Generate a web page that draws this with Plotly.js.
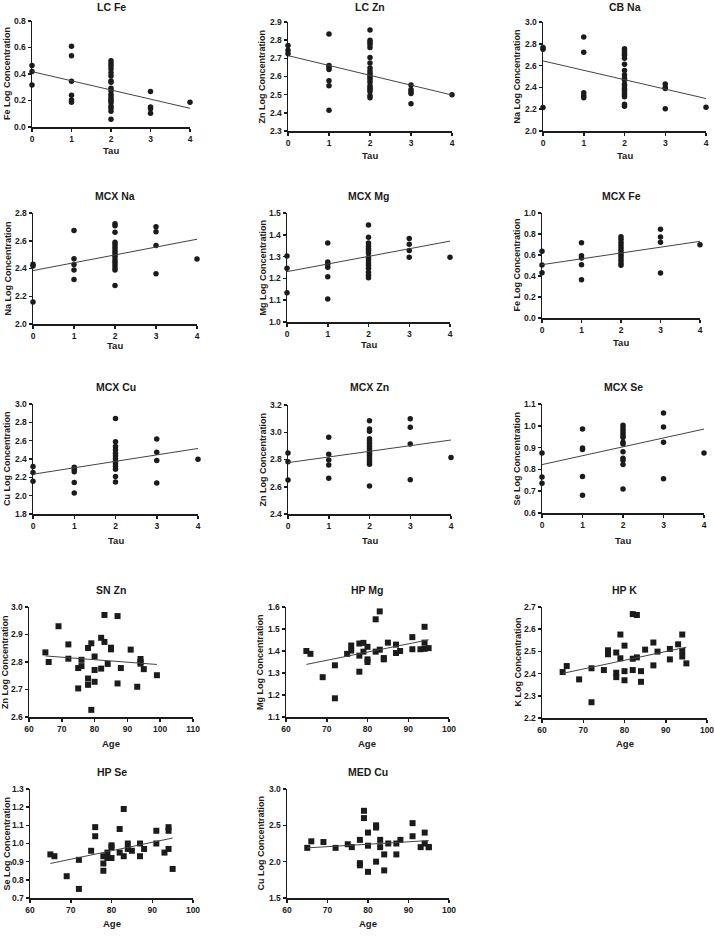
<!DOCTYPE html>
<html><head><meta charset="utf-8">
<script src="https://cdn.plot.ly/plotly-3.0.1.min.js"></script>
<style>html,body{margin:0;padding:0;background:#fff}#chart{width:714px;height:938px}</style>
</head><body><div id="chart"></div>
<script>
// ---------------- DATA ----------------
const panelTitles = ["LC Fe","LC Zn","CB Na","MCX Na","MCX Mg","MCX Fe","MCX Cu","MCX Zn","MCX Se","SN Zn","HP Mg","HP K","HP Se","MED Cu"];
const yTitles = ["Fe Log Concentration","Zn Log Concentration","Na Log Concentration","Na Log Concentration","Mg Log Concentration","Fe Log Concentration","Cu Log Concentration","Zn Log Concentration","Se Log Concentration","Zn Log Concentration","Mg Log Concentration","K Log Concentration","Se Log Concentration","Cu Log Concentration"];
const xTitles = ["Tau","Tau","Tau","Tau","Tau","Tau","Tau","Tau","Tau","Age","Age","Age","Age","Age"];

const lcFeTau = [0,0,0,1,1,1,1,1,1,2,2,2,2,2,2,2,2,2,2,2,2,2,2,2,2,2,2,2,3,3,3,3,4];
const lcFeVal = [0.465,0.418,0.317,0.609,0.538,0.345,0.24,0.204,0.186,0.50,0.48,0.46,0.438,0.41,0.385,0.347,0.337,0.292,0.274,0.247,0.229,0.211,0.199,0.184,0.158,0.141,0.118,0.058,0.267,0.151,0.138,0.103,0.186];

const lcZnTau = [0,0,0,1,1,1,1,1,1,1,2,2,2,2,2,2,2,2,2,2,2,2,2,2,2,2,2,2,2,2,3,3,3,3,3,4];
const lcZnVal = [2.77,2.745,2.725,2.834,2.66,2.649,2.638,2.577,2.549,2.414,2.856,2.80,2.789,2.776,2.76,2.704,2.675,2.647,2.63,2.617,2.606,2.594,2.582,2.568,2.549,2.538,2.529,2.518,2.496,2.483,2.553,2.529,2.516,2.507,2.45,2.5];

const cbNaTau = [0,0,0,1,1,1,1,1,2,2,2,2,2,2,2,2,2,2,2,2,2,2,2,2,2,2,2,3,3,3,3,4];
const cbNaVal = [2.766,2.75,2.215,2.862,2.723,2.35,2.326,2.305,2.754,2.735,2.714,2.695,2.668,2.612,2.554,2.514,2.483,2.468,2.431,2.415,2.391,2.375,2.351,2.332,2.314,2.246,2.228,2.431,2.40,2.391,2.203,2.218];

const mcxNaTau = [0,0,0,1,1,1,1,1,2,2,2,2,2,2,2,2,2,2,2,2,2,2,2,2,3,3,3,3,4];
const mcxNaVal = [2.43,2.418,2.159,2.674,2.471,2.428,2.389,2.321,2.723,2.708,2.662,2.59,2.573,2.553,2.534,2.515,2.498,2.483,2.461,2.445,2.425,2.406,2.389,2.278,2.701,2.665,2.566,2.363,2.469];

const mcxMgTau = [0,0,0,1,1,1,1,1,1,2,2,2,2,2,2,2,2,2,2,2,2,2,2,2,3,3,3,3,4];
const mcxMgVal = [1.303,1.246,1.134,1.362,1.275,1.265,1.251,1.208,1.105,1.445,1.389,1.362,1.349,1.337,1.328,1.317,1.297,1.285,1.272,1.26,1.246,1.228,1.215,1.203,1.383,1.357,1.328,1.297,1.297];

const mcxFeTau = [0,0,0,1,1,1,1,1,2,2,2,2,2,2,2,2,2,2,2,2,3,3,3,3,4];
const mcxFeVal = [0.635,0.505,0.432,0.717,0.594,0.571,0.508,0.365,0.775,0.749,0.721,0.695,0.67,0.645,0.619,0.597,0.575,0.549,0.524,0.502,0.845,0.771,0.721,0.429,0.698];

const mcxCuTau = [0,0,0,1,1,1,1,1,2,2,2,2,2,2,2,2,2,2,2,2,2,3,3,3,3,4];
const mcxCuVal = [2.318,2.252,2.157,2.311,2.289,2.26,2.143,2.03,2.843,2.588,2.537,2.5,2.464,2.435,2.405,2.376,2.347,2.318,2.289,2.21,2.15,2.617,2.475,2.384,2.139,2.398];

const mcxZnTau = [0,0,0,1,1,1,1,1,2,2,2,2,2,2,2,2,2,2,2,2,2,2,2,2,3,3,3,3,4];
const mcxZnVal = [2.848,2.784,2.65,2.963,2.838,2.797,2.76,2.662,3.085,3.024,3.007,2.953,2.936,2.917,2.897,2.88,2.863,2.846,2.829,2.812,2.797,2.78,2.765,2.606,3.1,3.036,2.914,2.652,2.814];

const mcxSeTau = [0,0,0,1,1,1,1,1,2,2,2,2,2,2,2,2,2,2,2,2,2,3,3,3,3,4];
const mcxSeVal = [0.875,0.765,0.736,0.985,0.898,0.891,0.768,0.681,1.002,0.99,0.978,0.967,0.956,0.946,0.924,0.917,0.881,0.851,0.842,0.822,0.71,1.059,0.994,0.924,0.757,0.875];

const snZnAge = [65,66,69,72,72,75,75,76,76,78,78,78,79,79,80,80,80,82,82,83,83,84,85,85,87,87,88,91,93,94,94,94,95,99];
const snZnVal = [2.835,2.80,2.93,2.864,2.812,2.778,2.704,2.808,2.785,2.851,2.74,2.717,2.868,2.626,2.82,2.771,2.728,2.888,2.776,2.971,2.873,2.793,2.852,2.846,2.967,2.722,2.778,2.845,2.71,2.811,2.80,2.794,2.774,2.752];

const hpMgAge = [65,66,69,72,72,75,76,76,78,78,78,79,79,80,80,80,82,82,83,83,84,84,85,87,87,88,91,91,93,94,94,94,95];
const hpMgVal = [1.40,1.387,1.281,1.335,1.185,1.387,1.425,1.402,1.434,1.379,1.306,1.437,1.397,1.419,1.362,1.35,1.544,1.397,1.58,1.406,1.368,1.362,1.438,1.429,1.391,1.40,1.463,1.408,1.408,1.51,1.438,1.41,1.413];

const hpKAge = [65,66,69,72,72,75,76,76,78,78,78,79,79,80,80,80,82,82,82,83,83,84,84,85,87,87,88,91,91,93,94,94,94,95];
const hpKVal = [2.407,2.434,2.374,2.424,2.271,2.416,2.505,2.487,2.495,2.404,2.384,2.576,2.469,2.526,2.411,2.37,2.668,2.467,2.416,2.664,2.473,2.411,2.363,2.508,2.54,2.437,2.499,2.511,2.464,2.532,2.576,2.502,2.477,2.446];

const hpSeAge = [65,66,69,72,72,75,76,76,78,78,78,79,79,80,80,80,82,82,83,83,84,84,85,87,87,88,91,91,93,94,94,94,95];
const hpSeVal = [0.94,0.93,0.82,0.75,0.91,0.96,1.09,1.04,0.93,0.89,0.85,0.95,0.92,0.99,0.98,0.92,1.08,0.95,1.19,0.93,1.0,0.97,0.96,1.0,0.93,0.97,1.07,1.0,0.95,1.09,1.07,0.97,0.86];

const medCuAge = [65,66,69,72,75,76,78,78,78,79,79,80,80,80,82,82,82,83,83,84,84,85,87,87,88,91,91,93,94,94,95,95];
const medCuVal = [2.19,2.28,2.27,2.19,2.24,2.2,1.98,1.95,2.3,2.7,2.6,2.22,2.4,1.86,2.5,2.47,2.0,2.3,2.2,1.88,2.1,2.25,2.25,2.1,2.3,2.53,2.35,2.2,2.4,2.25,2.2,2.2];

// fitted regression lines: value at smallest x, value at largest x
const fitStart = [0.418,2.715,2.643,2.385,1.231,0.508,2.234,2.777,0.822,2.822,1.339,2.401,0.89,2.19];
const fitEnd   = [0.141,2.498,2.298,2.611,1.371,0.730,2.515,2.943,0.985,2.791,1.451,2.519,1.03,2.29];

const yRanges = [[0,0.8],[2.3,2.9],[2.0,3.0],[2.0,2.8],[1.0,1.5],[0,1.0],[1.8,3.0],[2.4,3.2],[0.6,1.1],[2.6,3.0],[1.1,1.6],[2.2,2.7],[0.7,1.3],[1.5,3.0]];
const yDticks = [0.2,0.1,0.2,0.2,0.1,0.2,0.2,0.2,0.1,0.1,0.1,0.1,0.1,0.5];
const xRanges = [[0,4],[0,4],[0,4],[0,4],[0,4],[0,4],[0,4],[0,4],[0,4],[60,110],[60,100],[60,100],[60,100],[60,100]];

const seriesX = [lcFeTau,lcZnTau,cbNaTau,mcxNaTau,mcxMgTau,mcxFeTau,mcxCuTau,mcxZnTau,mcxSeTau,snZnAge,hpMgAge,hpKAge,hpSeAge,medCuAge];
const seriesY = [lcFeVal,lcZnVal,cbNaVal,mcxNaVal,mcxMgVal,mcxFeVal,mcxCuVal,mcxZnVal,mcxSeVal,snZnVal,hpMgVal,hpKVal,hpSeVal,medCuVal];

// ---------------- LAYOUT (pixel boxes of plot areas) ----------------
const W = 714, H = 938;
const boxes = [ // [left, right, top, bottom]
  [32,190,21,127],[288,452,22,131],[543,706,22,131],
  [33,197,213,324],[287,450,213,322],[542,700,213,318],
  [33,198,404,514],[288,451,405,514],[542,704,404,513],
  [29,193,607,717],[286,449,607,717],[542,707,607,718],
  [30,193,789,898],[287,449,789,898]
];
const titleY = [7,7,7,196,196,196,387,387,387,590,590,590,772,772];
const xTitleY = [150,155,155,345,344,342,540,540,540,743,743,743,923,923];
const yTitleX = [7,262,517,7,262,516,7,262,516,5,260,517,6,260];

const FONT = "Liberation Sans, Arial, sans-serif";
const INK = "#1b1b1b";
const traces = [];
const layout = {
  width: W, height: H,
  margin: {l:0,r:0,t:0,b:0},
  paper_bgcolor: "#fff", plot_bgcolor: "#fff",
  showlegend: false,
  font: {family: FONT, color: INK},
  annotations: []
};

for (let i = 0; i < 14; i++) {
  const sfx = i === 0 ? "" : String(i + 1);
  const xa = "x" + sfx, ya = "y" + sfx;
  const [l, r, t, b] = boxes[i];
  const isAge = xTitles[i] === "Age";
  traces.push({
    type: "scatter", mode: "markers", x: seriesX[i], y: seriesY[i],
    xaxis: xa, yaxis: ya, cliponaxis: false,
    marker: {symbol: isAge ? "square" : "circle", size: isAge ? 6 : 5.5, color: INK}
  });
  const xs = seriesX[i];
  const xmin = Math.min(...xs), xmax = Math.max(...xs);
  traces.push({
    type: "scatter", mode: "lines", x: [xmin, xmax], y: [fitStart[i], fitEnd[i]],
    xaxis: xa, yaxis: ya, cliponaxis: false,
    line: {color: "#444", width: 1}
  });
  layout["xaxis" + sfx] = {
    domain: [l / W, r / W], range: xRanges[i], anchor: ya,
    showgrid: false, zeroline: false, showline: true, linecolor: INK, linewidth: 1.5,
    ticks: "outside", ticklen: 3, tickwidth: 1.5, tickcolor: INK,
    dtick: isAge ? 10 : 1, tick0: 0, ticklabeloverflow: "allow",
    tickfont: {family: FONT, size: 8.5, weight: "bold", color: INK},
    fixedrange: true
  };
  layout["yaxis" + sfx] = {
    domain: [1 - b / H, 1 - t / H], range: yRanges[i], anchor: xa,
    showgrid: false, zeroline: false, showline: true, linecolor: INK, linewidth: 1.5,
    ticks: "outside", ticklen: 3, tickwidth: 1.5, tickcolor: INK,
    dtick: yDticks[i], tick0: 0, tickformat: ".1f", ticklabeloverflow: "allow",
    tickfont: {family: FONT, size: 8.5, weight: "bold", color: INK},
    fixedrange: true
  };
  layout.annotations.push({
    xref: "paper", yref: "paper", x: (l + r) / 2 / W, y: 1 - titleY[i] / H,
    xanchor: "center", yanchor: "middle", showarrow: false,
    text: "<b>" + panelTitles[i] + "</b>",
    font: {family: FONT, size: 10.5, color: INK}
  });
  layout.annotations.push({
    xref: "paper", yref: "paper", x: (l + r) / 2 / W, y: 1 - xTitleY[i] / H,
    xanchor: "center", yanchor: "middle", showarrow: false,
    text: "<b>" + xTitles[i] + "</b>",
    font: {family: FONT, size: 9.5, color: INK}
  });
  layout.annotations.push({
    xref: "paper", yref: "paper", x: yTitleX[i] / W, y: 1 - (t + b) / 2 / H,
    xanchor: "center", yanchor: "middle", showarrow: false, textangle: -90,
    text: "<b>" + yTitles[i] + "</b>",
    font: {family: FONT, size: 9, color: INK}
  });
}

Plotly.newPlot("chart", traces, layout, {staticPlot: true, displayModeBar: false});
</script>
</body></html>
